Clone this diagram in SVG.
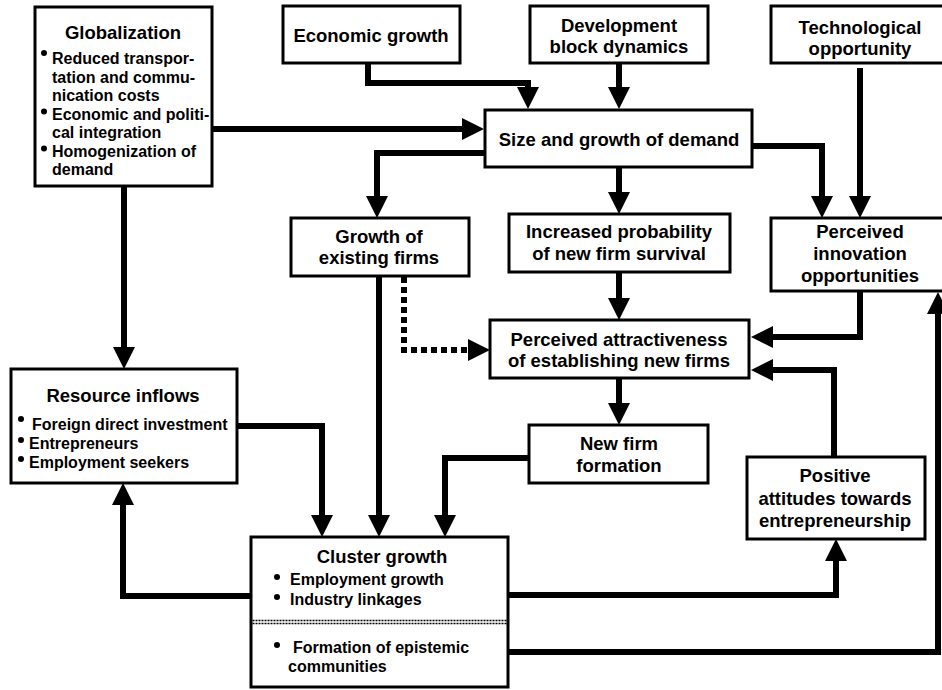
<svg xmlns="http://www.w3.org/2000/svg" width="942" height="690" viewBox="0 0 942 690">
<style>
.box{fill:#fff;stroke:#000;stroke-width:3}
.t{font-family:"Liberation Sans",Arial,sans-serif;font-weight:bold;font-size:18.5px;text-anchor:middle;fill:#000}
.b{font-family:"Liberation Sans",Arial,sans-serif;font-weight:bold;font-size:16px;fill:#000}
.c{fill:none;stroke:#000;stroke-width:6;stroke-linejoin:miter;stroke-linecap:butt;marker-end:url(#ah)}
.d{stroke-dasharray:6 4}
.div{stroke:#000;stroke-width:1.5;stroke-dasharray:2 1}
</style>
<defs>
<marker id="ah" markerUnits="userSpaceOnUse" markerWidth="22" markerHeight="22" viewBox="0 0 22 22" refX="10" refY="11" orient="auto"><path d="M0,0 L22,11 L0,22 z" fill="#000"/></marker>
</defs>
<rect width="942" height="690" fill="#fff"/>
<g id="connectors">
<path class="c" d="M368,63 V83 H528 V97"/>
<path class="c" d="M619,63 V97"/>
<path class="c" d="M212,129 H472"/>
<path class="c" d="M485,153 H377 V206"/>
<path class="c" d="M619,167 V202"/>
<path class="c" d="M752,146 H822 V206"/>
<path class="c" d="M860,68 V206"/>
<path class="c" d="M124,186 V357"/>
<path class="c" d="M379,276 V525"/>
<path class="c d" d="M404,277 V350 H478"/>
<path class="c" d="M619,272 V308"/>
<path class="c" d="M860,291 V337 H763"/>
<path class="c" d="M834,457 V370 H763"/>
<path class="c" d="M619,378 V413"/>
<path class="c" d="M529,458 H445 V525"/>
<path class="c" d="M237,426 H322 V525"/>
<path class="c" d="M251,596 H123 V495"/>
<path class="c" d="M508,595 H836 V551"/>
<path class="c" d="M508,652 H938 V304"/>
</g>
<g id="globalization">
<rect class="box" x="35" y="7" width="177" height="179"/>
<text class="t" x="123" y="39">Globalization</text>
<circle cx="44" cy="53" r="3"/>
<circle cx="44" cy="111.5" r="3"/>
<circle cx="44" cy="148.5" r="3"/>
<text class="b" x="52" y="64">Reduced transpor-</text>
<text class="b" x="52" y="82.5">tation and commu-</text>
<text class="b" x="52" y="101">nication costs</text>
<text class="b" x="52" y="119.5">Economic and politi-</text>
<text class="b" x="52" y="138">cal integration</text>
<text class="b" x="52" y="156.5">Homogenization of</text>
<text class="b" x="52" y="175">demand</text>
</g>
<g id="economic-growth">
<rect class="box" x="283" y="6" width="177" height="57"/>
<text class="t" x="371" y="42">Economic growth</text>
</g>
<g id="development-block">
<rect class="box" x="530" y="6" width="178" height="57"/>
<text class="t" x="619" y="32">Development</text>
<text class="t" x="619" y="53">block dynamics</text>
</g>
<g id="technological-opportunity">
<rect class="box" x="771" y="6" width="178" height="57"/>
<text class="t" x="860" y="34">Technological</text>
<text class="t" x="860" y="55">opportunity</text>
</g>
<g id="size-growth-demand">
<rect class="box" x="485" y="110" width="267" height="57"/>
<text class="t" x="619" y="146">Size and growth of demand</text>
</g>
<g id="growth-existing-firms">
<rect class="box" x="291" y="218" width="178" height="58"/>
<text class="t" x="379" y="243">Growth of</text>
<text class="t" x="379" y="264">existing firms</text>
</g>
<g id="increased-probability">
<rect class="box" x="509" y="214" width="221" height="58"/>
<text class="t" x="619" y="238">Increased probability</text>
<text class="t" x="619" y="260">of new firm survival</text>
</g>
<g id="perceived-innovation">
<rect class="box" x="771" y="218" width="178" height="73"/>
<text class="t" x="860" y="238">Perceived</text>
<text class="t" x="860" y="260">innovation</text>
<text class="t" x="860" y="282">opportunities</text>
</g>
<g id="perceived-attractiveness">
<rect class="box" x="490" y="320" width="259" height="58"/>
<text class="t" x="619" y="346">Perceived attractiveness</text>
<text class="t" x="619" y="367">of establishing new firms</text>
</g>
<g id="resource-inflows">
<rect class="box" x="11" y="369" width="226" height="114"/>
<text class="t" x="123" y="402">Resource inflows</text>
<circle cx="21" cy="419" r="3"/>
<circle cx="21" cy="440" r="3"/>
<circle cx="21" cy="459" r="3"/>
<text class="b" x="32" y="430">Foreign direct investment</text>
<text class="b" x="29" y="449">Entrepreneurs</text>
<text class="b" x="29" y="468">Employment seekers</text>
</g>
<g id="new-firm-formation">
<rect class="box" x="529" y="425" width="179" height="58"/>
<text class="t" x="619" y="450">New firm</text>
<text class="t" x="619" y="472">formation</text>
</g>
<g id="positive-attitudes">
<rect class="box" x="747" y="457" width="178" height="82"/>
<text class="t" x="835" y="482">Positive</text>
<text class="t" x="835" y="505">attitudes towards</text>
<text class="t" x="835" y="527">entrepreneurship</text>
</g>
<g id="cluster-growth">
<rect class="box" x="251" y="537" width="257" height="150"/>
<text class="t" x="382" y="563">Cluster growth</text>
<circle cx="277" cy="577" r="3"/>
<circle cx="277" cy="597" r="3"/>
<text class="b" x="290" y="585">Employment growth</text>
<text class="b" x="290" y="605">Industry linkages</text>
<line class="div" x1="252.5" y1="620.5" x2="506.5" y2="620.5"/>
<line class="div" x1="252.5" y1="623.5" x2="506.5" y2="623.5"/>
<circle cx="277" cy="645" r="3"/>
<text class="b" x="293" y="653">Formation of epistemic</text>
<text class="b" x="288" y="672">communities</text>
</g>
</svg>
